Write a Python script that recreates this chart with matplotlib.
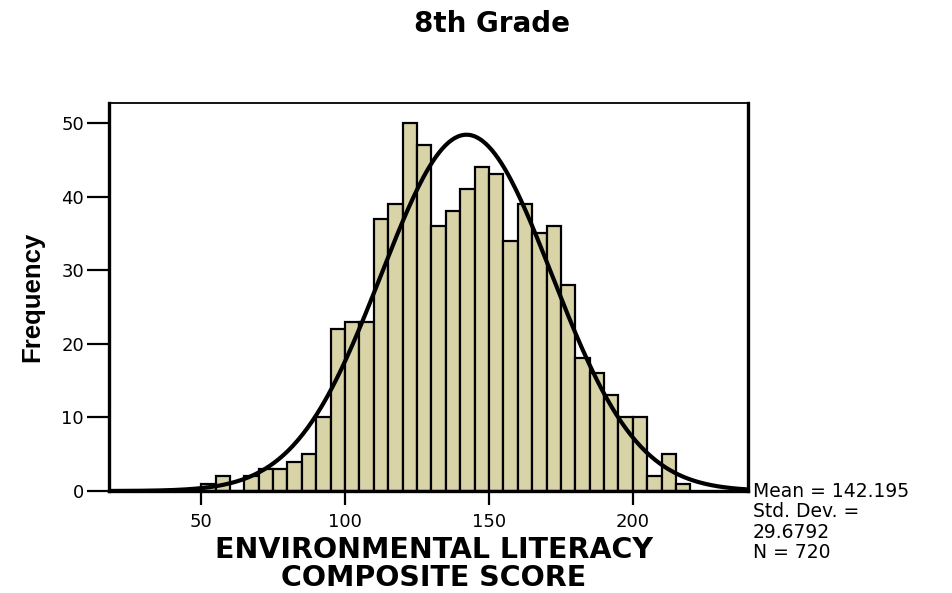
import numpy as np
import matplotlib
matplotlib.use('Agg')
import matplotlib.pyplot as plt

# bin edges (width 5) and frequency per bin, 50..220
bin_left = [50, 55, 60, 65, 70, 75, 80, 85, 90, 95, 100, 105, 110, 115, 120,
            125, 130, 135, 140, 145, 150, 155, 160, 165, 170, 175, 180, 185,
            190, 195, 200, 205, 210, 215]
counts = [1, 2, 0, 2, 3, 3, 4, 5, 10, 22, 23, 23, 37, 39, 50,
          47, 36, 38, 41, 44, 43, 34, 39, 35, 36, 28, 18, 16,
          13, 10, 10, 2, 5, 1]
bin_width = 5

mean = 142.195
std_dev = 29.6792
n_total = 720

x_ticks = [50, 100, 150, 200]
y_ticks = [0, 10, 20, 30, 40, 50]

plt.rcParams['font.family'] = ['DejaVu Sans']

fig = plt.figure(figsize=(9.52, 5.93), dpi=100)
ax = fig.add_axes([109 / 952, 1 - 491 / 593, (748 - 109) / 952, (491 - 103) / 593])

ax.bar(bin_left, counts, width=bin_width, align='edge',
       color='#D9D4A8', edgecolor='black', linewidth=1.6)

# fitted normal curve
xlim = (18.0, 240.0)
xs = np.linspace(xlim[0], xlim[1], 400)
ys = n_total * bin_width / (std_dev * np.sqrt(2 * np.pi)) * np.exp(-0.5 * ((xs - mean) / std_dev) ** 2)
ax.plot(xs, ys, color='black', linewidth=3.0, solid_capstyle='butt', clip_on=False)

ax.set_xlim(*xlim)
ax.set_ylim(0, 52.7)
ax.set_xticks(x_ticks)
ax.set_yticks(y_ticks)
ax.tick_params(axis='x', length=10, width=1.6, labelsize=13, pad=6)
ax.tick_params(axis='y', length=16, width=1.6, labelsize=13, pad=2)

for side in ['left', 'bottom', 'right']:
    ax.spines[side].set_linewidth(2.4)
ax.spines['top'].set_linewidth(1.3)

ax.set_ylabel('Frequency', fontsize=18.5, fontweight='bold',
              family=['Liberation Sans', 'DejaVu Sans'])
ax.yaxis.set_label_coords(-0.102, 0.5)

fig.text(434 / 952, 1 - 564 / 593, 'ENVIRONMENTAL LITERACY\nCOMPOSITE SCORE',
         ha='center', va='center', fontsize=20.5, fontweight='bold', linespacing=1.0)

fig.text(492 / 952, 1 - 24 / 593, '8th Grade', ha='center', va='center',
         fontsize=20, fontweight='bold')

fig.text(753 / 952, 1 - 522 / 593,
         'Mean = {}\nStd. Dev. =\n{}\nN = {}'.format(mean, std_dev, n_total),
         ha='left', va='center', fontsize=13.5, linespacing=1.1)

fig.savefig('out.png', dpi=100)
